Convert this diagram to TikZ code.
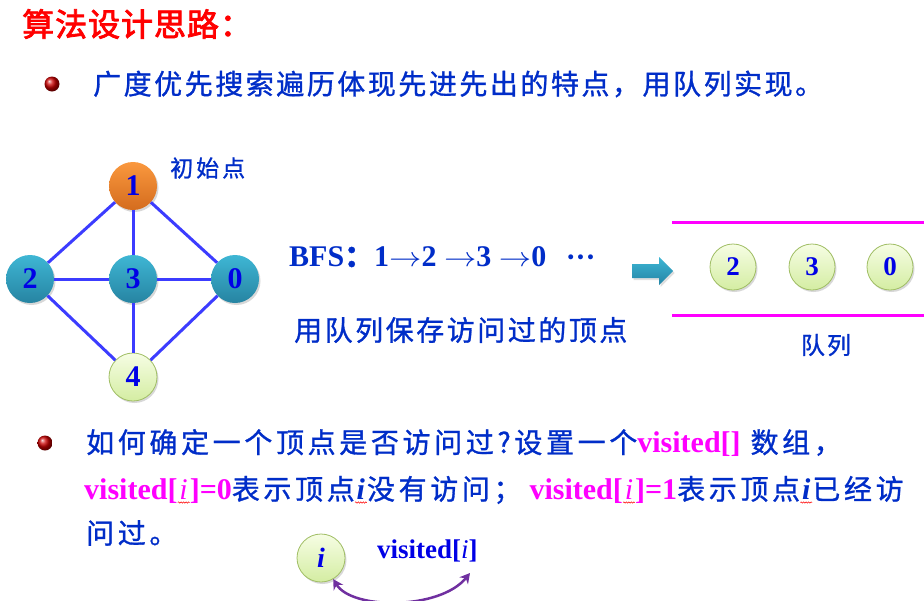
\documentclass[tikz,border=0pt]{standalone}
\usepackage{fontspec}
\setmainfont{Liberation Serif}
\newfontfamily\cjk{Noto Sans CJK SC}[LetterSpace=9,FakeBold=1]
\newfontfamily\cjkw{Noto Sans CJK SC}[LetterSpace=13,FakeBold=1]
\newfontfamily\cjkt{Noto Sans CJK SC}[LetterSpace=3,FakeBold=2.5]
\newfontfamily\dvs{DejaVu Sans}
\usetikzlibrary{shadows,arrows.meta,decorations.pathmorphing}
\definecolor{orT}{RGB}{250,152,62}
\definecolor{orB}{RGB}{212,108,30}
\definecolor{teT}{RGB}{62,182,212}
\definecolor{teB}{RGB}{38,132,162}
\definecolor{grT}{RGB}{246,253,228}
\definecolor{grB}{RGB}{212,237,162}
\definecolor{grD}{RGB}{160,190,100}
\definecolor{arT}{RGB}{62,182,212}
\definecolor{arB}{RGB}{35,132,165}
\definecolor{edgeB}{RGB}{60,60,255}
\definecolor{magT}{RGB}{255,0,255}
\definecolor{blueT}{RGB}{0,45,200}
\definecolor{numB}{RGB}{0,0,230}
\definecolor{purA}{RGB}{112,48,160}
\newcommand\wav[1]{\tikz[baseline=(wv.base)]{\node[inner sep=0pt] (wv) {#1};
  \draw[red, line width=0.5pt, decorate, decoration={snake, amplitude=0.7pt, segment length=2.5pt}]
  ([yshift=-3pt,xshift=-1.5pt]wv.base west) -- ([yshift=-3pt,xshift=1.5pt]wv.base east);}}
\newcommand\lat{\rmfamily\bfseries\color{magT}\fontsize{30}{30}\selectfont}
\newcommand\ra{{\fontsize{25}{25}\selectfont\scalebox{1.3}[1.1]{$\rightarrow$}}}
\begin{document}
\begin{tikzpicture}[x=1pt,y=-1pt,
  gnode/.style={circle, minimum size=48pt, inner sep=0pt,
    font=\fontsize{30}{30}\selectfont\bfseries, text=numB,
    drop shadow={opacity=0.3, shadow xshift=1.5pt, shadow yshift=-2pt}},
  orangeN/.style={gnode, top color=orT, bottom color=orB},
  tealN/.style={gnode, top color=teT, bottom color=teB},
  greenN/.style={gnode, top color=grT, bottom color=grB, draw=grD, line width=0.8pt},
  qnode/.style={greenN, minimum size=46pt, font=\fontsize{27}{27}\selectfont\bfseries},
  edge/.style={draw=edgeB, line width=3pt},
  zh/.style={text=blueT, inner sep=0pt, anchor=west},
  ballN/.style={circle, minimum size=15pt, inner sep=0pt, ball color=red!80!black},
  magline/.style={draw=magT, line width=3pt}
]
\fill[white] (0,0) rectangle (924,600);
\useasboundingbox (0,0) rectangle (924,600);

% title and first bullet
\node[anchor=west, inner sep=0pt, text=red, font=\fontsize{32}{32}\cjkt] (title) at (22,24) {算法设计思路：};
\node[ballN] (b1) at (52,84) {};
\node[zh, font=\fontsize{28}{28}\cjk] (t1) at (93,84) {广度优先搜索遍历体现先进先出的特点，用队列实现。};

% graph
\node[orangeN] (n1) at (133,186) {1};
\node[tealN] (n2) at (30,279) {2};
\node[tealN] (n3) at (133,279) {3};
\node[tealN] (n0) at (235,279) {0};
\node[greenN] (n4) at (133,377) {4};
\draw[edge] (n1) -- (n2);
\draw[edge] (n1) -- (n3);
\draw[edge] (n1) -- (n0);
\draw[edge] (n2) -- (n3);
\draw[edge] (n3) -- (n0);
\draw[edge] (n2) -- (n4);
\draw[edge] (n3) -- (n4);
\draw[edge] (n0) -- (n4);
\node[zh, font=\fontsize{23}{23}\cjkw] (init) at (170,168) {初始点};

% BFS text
\node[anchor=west, inner sep=0pt, text=blueT, font=\fontsize{30}{30}\selectfont\bfseries] (bfs) at (289,257) {BFS{\cjk ：}1\ra2 \ra3 \ra0 \ \,{\dvs\bfseries\fontsize{14}{14}\selectfont\raisebox{4pt}{•\hspace{1pt}•\hspace{1pt}•}}};
\node[zh, font=\fontsize{28}{28}\cjk] (keep) at (294,330) {用队列保存访问过的顶点};

% block arrow
\shade[top color=arT, bottom color=arB, drop shadow={opacity=0.25, shadow xshift=1.5pt, shadow yshift=-2pt}]
  (632,264) -- (659,264) -- (659,257) -- (673,271) -- (659,285) -- (659,278) -- (632,278) -- cycle;

% queue
\coordinate (qa) at (672,222);
\coordinate (qb) at (924,222);
\coordinate (qc) at (672,315);
\coordinate (qd) at (924,315);
\draw[magline] (qa) -- (qb);
\draw[magline] (qc) -- (qd);
\node[qnode] (q2) at (733,267) {2};
\node[qnode] (q3) at (812,267) {3};
\node[qnode] (q0) at (890,267) {0};
\node[text=blueT, inner sep=0pt, font=\fontsize{24}{24}\cjk] (ql) at (826,345) {队列};

% second bullet
\node[ballN] (b2) at (45,443) {};
\node[zh, font=\fontsize{28}{28}\cjkw] (l1) at (86,443) {如何确定一个顶点是否访问过?设置一个{\lat visited[]} 数组，};
\node[zh, font=\fontsize{28}{28}\cjkw] (l2) at (84,490) {{\lat visited[\wav{\mdseries\itshape i}]=0}表示顶点{\rmfamily\bfseries\itshape\fontsize{30}{30}\selectfont\wav{i}}没有访问；\hspace{8pt}{\lat visited[\wav{\mdseries\itshape i}]=1}表示顶点{\rmfamily\bfseries\itshape\fontsize{30}{30}\selectfont\wav{i}}已经访};
\node[zh, font=\fontsize{28}{28}\cjkw] (l3) at (86,533) {问过。};

% i and visited[i]
\node[greenN, font=\fontsize{28}{28}\selectfont\bfseries\itshape] (ni) at (321,558) {i};
\node[anchor=west, inner sep=0pt, text=numB, font=\fontsize{27}{27}\selectfont\bfseries] (vis) at (377,551) {visited[{\mdseries\itshape i}]};
\coordinate (va) at (470,573);
\draw[purA, line width=2.5pt, {Stealth[length=10pt,width=11pt]}-{Stealth[length=10pt,width=11pt]}]
  (ni.-60) .. controls (352,610) and (440,610) .. (va);
\end{tikzpicture}
\end{document}
